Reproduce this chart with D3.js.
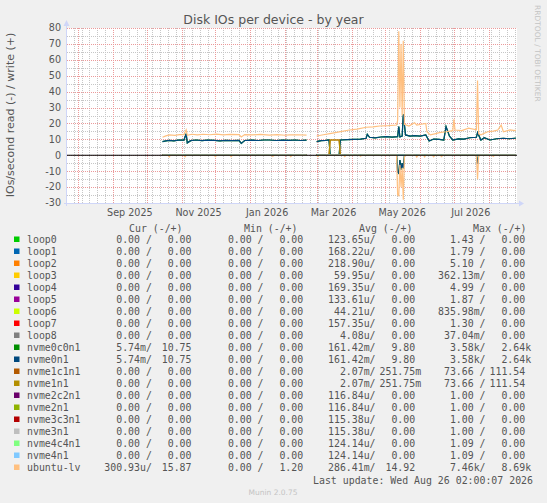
<!DOCTYPE html>
<html>
<head>
<meta charset="utf-8">
<title>Disk IOs per device - by year</title>
<script src="https://cdn.jsdelivr.net/npm/d3@7"></script>
<style>
  body { margin: 0; background: #f0f0f0; }
  svg { display: block; }
  .mono { font-family: "DejaVu Sans Mono", monospace; font-size: 9.9px; fill: #555; white-space: pre; }
  .sans { font-family: "DejaVu Sans", sans-serif; fill: #555; }
</style>
</head>
<body>
<script>

// legend rows
var names = ['loop0','loop1','loop2','loop3','loop4','loop5','loop6','loop7','loop8',
  'nvme0c0n1','nvme0n1','nvme1c1n1','nvme1n1','nvme2c2n1','nvme2n1','nvme3c3n1','nvme3n1',
  'nvme4c4n1','nvme4n1','ubuntu-lv']
var colors = ['#00CC00','#0066B3','#FF8000','#FFCC00','#330099','#990099','#CCFF00','#FF0000','#808080',
  '#008F00','#00487D','#B35A00','#B38F00','#6B006B','#8FB300','#B30000','#BEBEBE',
  '#80FF80','#80C9FF','#FFC080']

var curRead  = ['0.00','0.00','0.00','0.00','0.00','0.00','0.00','0.00','0.00','5.74m','5.74m','0.00','0.00','0.00','0.00','0.00','0.00','0.00','0.00','300.93u']
var curWrite = ['0.00','0.00','0.00','0.00','0.00','0.00','0.00','0.00','0.00','10.75','10.75','0.00','0.00','0.00','0.00','0.00','0.00','0.00','0.00','15.87']
var minRead  = ['0.00','0.00','0.00','0.00','0.00','0.00','0.00','0.00','0.00','0.00','0.00','0.00','0.00','0.00','0.00','0.00','0.00','0.00','0.00','0.00']
var minWrite = ['0.00','0.00','0.00','0.00','0.00','0.00','0.00','0.00','0.00','0.00','0.00','0.00','0.00','0.00','0.00','0.00','0.00','0.00','0.00','1.20']
var avgRead  = ['123.65u','168.22u','218.90u','59.95u','169.35u','133.61u','44.21u','157.35u','4.08u','161.42m','161.42m','2.07m','2.07m','116.84u','116.84u','115.38u','115.38u','124.14u','124.14u','286.41m']
var avgWrite = ['0.00','0.00','0.00','0.00','0.00','0.00','0.00','0.00','0.00','9.80','9.80','251.75m','251.75m','0.00','0.00','0.00','0.00','0.00','0.00','14.92']
var maxRead  = ['1.43','1.79','5.10','362.13m','4.99','1.87','835.98m','1.30','37.04m','3.58k','3.58k','73.66','73.66','1.00','1.00','1.00','1.00','1.09','1.09','7.46k']
var maxWrite = ['0.00','0.00','0.00','0.00','0.00','0.00','0.00','0.00','0.00','2.64k','2.64k','111.54','111.54','0.00','0.00','0.00','0.00','0.00','0.00','8.69k']

var headers = ['Cur (-/+)','Min (-/+)','Avg (-/+)','Max (-/+)']
var yTicks = [-30,-20,-10,0,10,20,30,40,50,60,70,80]

// time series, values in IOs/second (read shown below zero)
var flatZero = [['2025-10-15',0],['2026-02-20',0],['2026-02-21',null],['2026-03-01',0],['2026-08-25',0]]

var nvme0Write = [['2025-10-15',8.6],['2025-10-18',9.0],['2025-10-21',9.4],['2025-10-25',9.1],['2025-10-29',9.5],
  ['2025-11-03',9.5],['2025-11-05',13.5],['2025-11-06',7.8],['2025-11-09',9.2],['2025-11-14',9.6],['2025-11-19',9.2],
  ['2025-11-24',9.5],['2025-11-30',9.4],['2025-12-05',9.1],['2025-12-10',9.4],['2025-12-16',9.2],['2025-12-22',9.3],
  ['2025-12-24',7.5],['2025-12-27',9.3],['2026-01-02',9.5],['2026-01-08',9.3],['2026-01-13',9.6],['2026-01-18',9.6],
  ['2026-01-24',9.3],['2026-01-30',9.5],['2026-02-05',9.4],['2026-02-10',9.6],['2026-02-15',9.3],['2026-02-20',9.5],
  ['2026-02-21',null],['2026-03-01',8.6],['2026-03-05',9.2],['2026-03-09',9.4],['2026-03-12',9.6],['2026-03-13',0],
  ['2026-03-21',0],['2026-03-22',9.6],['2026-03-28',9.8],['2026-04-03',10.0],['2026-04-09',10.2],['2026-04-14',10.7],
  ['2026-04-15',13.2],['2026-04-17',11.3],['2026-04-22',11.0],['2026-04-27',11.5],['2026-05-02',11.7],['2026-05-07',11.4],
  ['2026-05-12',11.7],['2026-05-13',18.0],['2026-05-14',11.5],['2026-05-16',12.0],['2026-05-17',25.8],['2026-05-19',12.8],
  ['2026-05-23',12.0],['2026-05-27',12.3],['2026-06-01',12.1],['2026-06-06',12.8],['2026-06-09',9.0],['2026-06-13',10.2],
  ['2026-06-18',10.0],['2026-06-22',9.6],['2026-06-24',18.0],['2026-06-27',12.1],['2026-06-30',9.6],['2026-07-05',10.3],
  ['2026-07-10',10.2],['2026-07-15',11.0],['2026-07-21',11.3],['2026-07-22',14.2],['2026-07-25',9.6],['2026-07-28',11.0],
  ['2026-08-02',9.6],['2026-08-08',10.4],['2026-08-14',10.7],['2026-08-19',10.4],['2026-08-24',10.7],['2026-08-25',10.75]]

var nvme0Read = [['2025-10-15',0],['2026-02-20',0],['2026-02-21',null],['2026-03-01',0],['2026-05-11',0],
  ['2026-05-12',10.5],['2026-05-13',11.3],['2026-05-14',3.0],['2026-05-15',9.0],['2026-05-16',5.0],['2026-05-17',8.2],
  ['2026-05-18',0.5],['2026-05-19',0],['2026-07-21',0],['2026-07-22',5.5],['2026-07-23',0],['2026-08-25',0]]

var nvme1Write = [['2025-10-15',0],['2026-02-20',0],['2026-02-21',null],['2026-03-01',0],['2026-03-12',0],
  ['2026-03-13',9.6],['2026-03-21',9.6],['2026-03-22',0],['2026-08-25',0]]

var ubuntuWrite = [['2025-10-15',11.3],['2025-10-18',12.2],['2025-10-21',12.8],['2025-10-26',12.5],['2025-10-30',13.0],
  ['2025-11-03',13.0],['2025-11-05',16.0],['2025-11-06',12.5],['2025-11-10',13.2],['2025-11-15',12.8],['2025-11-20',13.2],
  ['2025-11-26',12.9],['2025-12-02',13.3],['2025-12-08',12.8],['2025-12-14',13.1],['2025-12-22',13.0],['2025-12-24',11.5],
  ['2025-12-27',13.0],['2026-01-03',12.8],['2026-01-10',13.1],['2026-01-18',12.7],['2026-01-25',13.0],['2026-02-01',12.6],
  ['2026-02-05',12.8],['2026-02-12',12.9],['2026-02-20',12.7],['2026-02-21',null],['2026-03-01',12.1],['2026-03-07',12.9],
  ['2026-03-14',13.8],['2026-03-20',14.5],['2026-03-30',15.9],['2026-04-06',16.4],['2026-04-14',17.6],['2026-04-20',17.9],
  ['2026-04-26',18.4],['2026-05-04',18.6],['2026-05-11',19.0],['2026-05-12',22.0],['2026-05-13',78.0],['2026-05-14',30.0],
  ['2026-05-15',70.0],['2026-05-16',25.0],['2026-05-17',72.0],['2026-05-18',19.5],['2026-05-22',18.4],['2026-05-27',20.5],
  ['2026-05-29',19.0],['2026-06-02',19.5],['2026-06-06',20.0],['2026-06-07',14.8],['2026-06-10',12.8],['2026-06-14',13.5],
  ['2026-06-18',14.2],['2026-06-24',14.8],['2026-06-30',15.5],['2026-07-01',22.6],['2026-07-02',15.9],['2026-07-08',15.5],
  ['2026-07-14',17.0],['2026-07-21',16.0],['2026-07-22',47.0],['2026-07-23',13.5],['2026-07-25',12.8],['2026-07-31',14.8],
  ['2026-08-05',15.2],['2026-08-09',15.9],['2026-08-12',19.0],['2026-08-14',14.8],['2026-08-20',16.0],['2026-08-24',15.5],
  ['2026-08-25',15.87]]

var ubuntuRead = [['2025-10-15',0],['2025-10-20',0],['2025-10-21',1.0],['2025-10-22',0],['2025-11-03',0],['2025-11-04',0.9],
  ['2025-11-05',0],['2025-11-30',0],['2025-12-01',0.8],['2025-12-02',0],['2025-12-14',0],['2025-12-15',0.8],['2025-12-16',0],
  ['2026-01-20',0],['2026-01-21',0.7],['2026-01-22',0],['2026-02-05',0],['2026-02-06',0.8],['2026-02-07',0],['2026-02-20',0],
  ['2026-02-21',null],['2026-03-01',0],['2026-03-02',0.7],['2026-03-03',0],['2026-03-25',0],['2026-03-26',0.8],['2026-03-27',0],
  ['2026-04-08',0],['2026-04-09',0.6],['2026-04-10',0],['2026-05-11',0],['2026-05-12',25.0],['2026-05-13',25.5],['2026-05-14',6.0],
  ['2026-05-15',20.0],['2026-05-16',8.0],['2026-05-17',28.0],['2026-05-18',1.0],['2026-05-19',0],['2026-05-28',0],['2026-05-29',1.2],
  ['2026-05-30',0],['2026-06-04',0],['2026-06-05',1.0],['2026-06-06',0],['2026-06-12',0],['2026-06-13',0.9],['2026-06-14',0],
  ['2026-06-19',0],['2026-06-20',0.8],['2026-06-21',0],['2026-07-21',0],['2026-07-22',15.0],['2026-07-23',0],['2026-08-04',0],
  ['2026-08-05',0.7],['2026-08-06',0],['2026-08-25',0]]

var writeSeries = {nvme0c0n1: nvme0Write, nvme0n1: nvme0Write, nvme1c1n1: nvme1Write, nvme1n1: nvme1Write, 'ubuntu-lv': ubuntuWrite}
var readSeries  = {nvme0c0n1: nvme0Read, nvme0n1: nvme0Read, 'ubuntu-lv': ubuntuRead}

var W = 547, H = 503
var svg = d3.select('body').append('svg').attr('width', W).attr('height', H)
svg.append('rect').attr('width', W).attr('height', H).attr('fill', '#f0f0f0')

var parse = d3.timeParse('%Y-%m-%d')
var x = d3.scaleTime()
  .domain([new Date(2025, 6, 22, 2, 0, 7), new Date(2026, 7, 26, 2, 0, 7)])
  .range([67, 517])
var y = d3.scaleLinear().domain([-30, 80]).range([203, 28])

svg.append('rect')
  .attr('x', 67).attr('y', 28).attr('width', 450).attr('height', 175)
  .attr('fill', '#ffffff')

// grid
var grid = svg.append('g').attr('fill', 'none').attr('stroke-width', 1).attr('stroke-dasharray', '1,1')
grid.selectAll('.vmin').data(x.ticks(d3.timeMonday)).enter().append('line')
  .attr('x1', function(d) { return Math.round(x(d)) + 0.5 })
  .attr('x2', function(d) { return Math.round(x(d)) + 0.5 })
  .attr('y1', 28).attr('y2', 203).attr('stroke', '#c6c6c6')
grid.selectAll('.hmin').data(y.ticks(22)).enter().append('line')
  .attr('x1', 67).attr('x2', 517)
  .attr('y1', function(d) { return Math.round(y(d)) + 0.5 })
  .attr('y2', function(d) { return Math.round(y(d)) + 0.5 })
  .attr('stroke', '#c6c6c6')
grid.selectAll('.vmaj').data(x.ticks(d3.timeMonth)).enter().append('line')
  .attr('x1', function(d) { return Math.round(x(d)) + 0.5 })
  .attr('x2', function(d) { return Math.round(x(d)) + 0.5 })
  .attr('y1', 28).attr('y2', 203).attr('stroke', '#eb9a9a')
grid.selectAll('.hmaj').data(yTicks).enter().append('line')
  .attr('x1', 67).attr('x2', 517)
  .attr('y1', function(d) { return Math.round(y(d)) + 0.5 })
  .attr('y2', function(d) { return Math.round(y(d)) + 0.5 })
  .attr('stroke', '#eb9a9a')

// data lines
var upLine = d3.line()
  .defined(function(d) { return d[1] != null })
  .x(function(d) { return x(parse(d[0])) })
  .y(function(d) { return y(d[1]) })
var downLine = d3.line()
  .defined(function(d) { return d[1] != null })
  .x(function(d) { return x(parse(d[0])) })
  .y(function(d) { return y(-d[1]) })

var plot = svg.append('g').attr('fill', 'none').attr('stroke-width', 1.2)
names.forEach(function(n, i) {
  plot.append('path').attr('d', downLine(readSeries[n] || flatZero)).attr('stroke', colors[i])
  plot.append('path').attr('d', upLine(writeSeries[n] || flatZero)).attr('stroke', colors[i])
})

// zero rule
svg.append('line').attr('x1', 67).attr('x2', 517).attr('y1', y(0)).attr('y2', y(0))
  .attr('stroke', '#000').attr('stroke-width', 1.2)

// axes
var axisCol = '#cfd6f8'
svg.append('line').attr('x1', 64).attr('x2', 520).attr('y1', 203.5).attr('y2', 203.5).attr('stroke', axisCol)
svg.append('line').attr('x1', 66.5).attr('x2', 66.5).attr('y1', 206).attr('y2', 24).attr('stroke', axisCol)
svg.append('path').attr('d', 'M519,200.5L524,203.5L519,206.5Z').attr('fill', axisCol)
svg.append('path').attr('d', 'M63.5,26L66.5,20L69.5,26Z').attr('fill', axisCol)

// tick labels
svg.selectAll('.ylab').data(yTicks).enter().append('text')
  .attr('class', 'sans').attr('font-size', 9.6)
  .attr('x', 61).attr('y', function(d) { return y(d) + 3.4 })
  .attr('text-anchor', 'end')
  .text(function(d) { return d })

var fmtMonth = d3.timeFormat('%b %Y')
svg.selectAll('.xlab').data(x.ticks(d3.timeMonth.every(2))).enter().append('text')
  .attr('class', 'sans').attr('font-size', 9.6)
  .attr('x', function(d) { return x(d3.timeDay.offset(d, 15)) })
  .attr('y', 215.8)
  .attr('text-anchor', 'middle')
  .text(function(d) { return fmtMonth(d) })

// title and side texts
svg.append('text').attr('class', 'sans').attr('font-size', 12.5)
  .attr('x', 273.5).attr('y', 23.5).attr('text-anchor', 'middle')
  .text('Disk IOs per device - by year')
svg.append('text').attr('class', 'sans').attr('font-size', 11)
  .attr('transform', 'translate(14,115) rotate(-90)').attr('text-anchor', 'middle')
  .text('IOs/second read (-) / write (+)')
svg.append('text').attr('class', 'sans').attr('font-size', 7.5).style('fill', '#c4c4c4')
  .attr('transform', 'translate(534.5,5) rotate(90)')
  .text('RRDTOOL / TOBI OETIKER')

// legend
function fld(s) {
  var m = s.match(/^([\d.]+)([a-zA-Z]?)$/)
  return m[1].padStart(6) + (m[2] || ' ')
}
var blockX = [104.3, 216, 328, 438]
var headX = [129, 244, 359, 473]
var cw = 6.0, gap = 3.5
var cols = [[curRead, curWrite], [minRead, minWrite], [avgRead, avgWrite], [maxRead, maxWrite]]

headers.forEach(function(h, c) {
  svg.append('text').attr('class', 'mono').attr('xml:space', 'preserve')
    .attr('x', headX[c]).attr('y', 231.8).text(h)
})

var rows = svg.selectAll('.row').data(names).enter().append('g')
  .attr('transform', function(d, i) { return 'translate(0,' + (239.3 + i * 12) + ')' })
rows.append('rect').attr('x', 14).attr('y', -2.8).attr('width', 5.5).attr('height', 5.5)
  .attr('fill', function(d, i) { return colors[i] })
rows.append('text').attr('class', 'mono').attr('x', 27).attr('y', 3.5).text(function(d) { return d })
cols.forEach(function(pair, c) {
  rows.append('text').attr('class', 'mono').attr('xml:space', 'preserve')
    .attr('x', blockX[c]).attr('y', 3.5)
    .text(function(d, i) { return fld(pair[0][i]) + '/' })
  rows.append('text').attr('class', 'mono').attr('xml:space', 'preserve')
    .attr('x', blockX[c] + 8 * cw + gap).attr('y', 3.5)
    .text(function(d, i) { return fld(pair[1][i]) })
})

svg.append('text').attr('class', 'mono').attr('xml:space', 'preserve')
  .attr('x', 533).attr('y', 483.5).attr('text-anchor', 'end')
  .text('Last update: Wed Aug 26 02:00:07 2026')
svg.append('text').attr('class', 'sans').attr('font-size', 7.5).style('fill', '#c4c4c4')
  .attr('x', 273).attr('y', 494.5).attr('text-anchor', 'middle')
  .text('Munin 2.0.75')

</script>
</body>
</html>
